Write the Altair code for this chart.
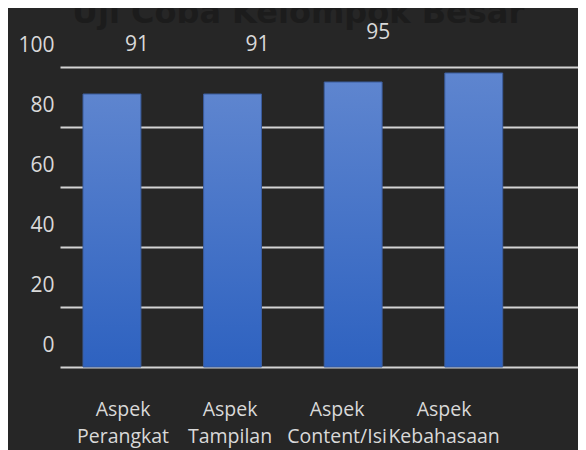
import altair as alt
import pandas as pd

categories = ["Aspek\nPerangkat", "Aspek\nTampilan", "Aspek\nContent/Isi", "Aspek\nKebahasaan"]
scores = [91, 91, 95, 98]
shown_labels = ["91", "91", "95", ""]
y_ticks = [0, 20, 40, 60, 80, 100]
title_text = ["Uji Coba Kelompok Besar"]

df = pd.DataFrame({"cat": categories, "score": scores, "lab": shown_labels})
df_title = pd.DataFrame({"t": title_text})

FONT = "Open Sans"
TXT = "#d9d9d9"
FS = 21

x_band = alt.X(
    "cat:N", sort=categories, axis=None,
    scale=alt.Scale(paddingInner=0.52, paddingOuter=0.4075, align=0.234),
)
y_enc = alt.Y(
    "score:Q",
    scale=alt.Scale(domain=[0, 100]),
    axis=alt.Axis(
        values=y_ticks, title=None, grid=True, gridColor="#d4d4d4", gridWidth=1.8,
        domain=False, ticks=False, tickSize=0, labelPadding=6, labelOffset=-22,
        labelFont=FONT, labelFontSize=FS, labelColor=TXT,
    ),
)

bars = alt.Chart(df).mark_bar(
    color=alt.Gradient(
        gradient="linear", x1=0, y1=0, x2=0, y2=1,
        stops=[alt.GradientStop(offset=0, color="#5e85cf"),
               alt.GradientStop(offset=1, color="#2e62c0")],
    ),
    stroke="#3b5c9c", strokeWidth=1,
).encode(x=x_band, y=y_enc)

vals = alt.Chart(df).mark_text(
    dx=25, dy=-49, baseline="middle", font=FONT, fontSize=FS, color=TXT,
).encode(x=x_band, y=alt.Y("score:Q"), text="lab:N")

title = alt.Chart(df_title).mark_text(
    align="left", baseline="alphabetic", dx=-40, dy=-44,
    font="DejaVu Sans", fontSize=32, fontWeight="bold", color="#1c1c1c",
).encode(x=alt.datum(categories[0]), y=alt.datum(100), text="t:N")

cats = alt.Chart(df).mark_text(
    lineBreak="\n", baseline="top", dy=34, lineHeight=27,
    font=FONT, fontSize=19.5, color=TXT,
).encode(
    x=alt.X("cat:N", sort=categories, axis=None,
            scale=alt.Scale(type="point", padding=0.92, align=0.32)),
    y=alt.datum(0),
    text="cat:N",
)

chart = alt.layer(alt.layer(bars, vals, title), cats).resolve_scale(x="independent").properties(
    width=518, height=300,
    padding={"left": 52, "top": 59, "right": 0, "bottom": 83},
    autosize=alt.AutoSizeParams(type="none"),
    background="#262626",
).configure_view(stroke=None)

chart.save("out.html", embed_options={"renderer": "svg", "actions": False})
